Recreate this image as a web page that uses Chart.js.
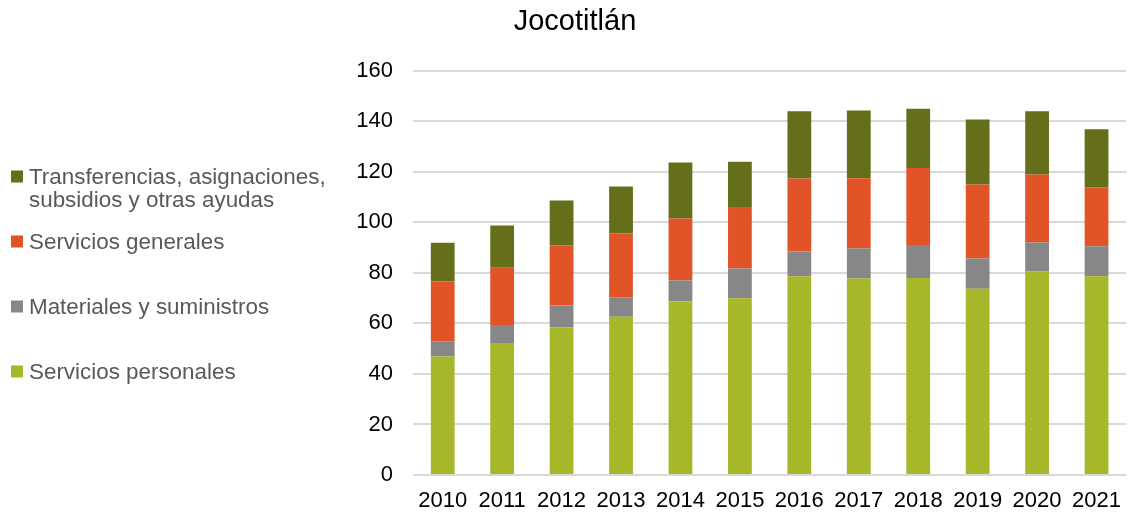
<!DOCTYPE html>
<html>
<head>
<meta charset="utf-8">
<script src="https://cdn.jsdelivr.net/npm/chart.js@4.4.1/dist/chart.umd.min.js"></script>
<style>
  html, body { margin: 0; padding: 0; background: #fff; overflow: hidden; }
  #wrap { width: 1136px; height: 513px; }
</style>
</head>
<body>
<div id="wrap"><canvas id="barchart" width="1136" height="513"></canvas></div>
<script>
const years = ['2010','2011','2012','2013','2014','2015','2016','2017','2018','2019','2020','2021'];
const personales = [46.9, 52.3, 58.4, 62.6, 68.7, 70.0, 78.7, 77.8, 78.0, 73.7, 80.6, 78.7];
const materiales = [6.0, 7.1, 8.7, 7.8, 8.3, 11.7, 9.8, 11.9, 13.0, 12.0, 11.4, 11.8];
const generales = [23.7, 22.6, 23.8, 25.2, 24.5, 24.4, 28.9, 27.8, 30.5, 29.3, 27.0, 23.4];
const transferencias = [15.3, 16.8, 17.8, 18.6, 22.2, 17.9, 26.6, 26.8, 23.5, 25.7, 25.0, 23.0];

const colors = {
  personales: '#A7B72A',
  materiales: '#878787',
  generales: '#E05428',
  transferencias: '#656E18'
};

// legend drawn at the left, as in the original
const legendItems = [
  { lines: ['Transferencias, asignaciones,', 'subsidios y otras ayudas'], color: colors.transferencias, y: 184 },
  { lines: ['Servicios generales'], color: colors.generales, y: 249 },
  { lines: ['Materiales y suministros'], color: colors.materiales, y: 314 },
  { lines: ['Servicios personales'], color: colors.personales, y: 379 }
];

const sideLegend = {
  id: 'sideLegend',
  afterDraw(chart) {
    const c = chart.ctx;
    c.save();
    c.font = '22.4px "Liberation Sans", Arial, sans-serif';
    c.textBaseline = 'alphabetic';
    c.textAlign = 'left';
    legendItems.forEach(item => {
      c.fillStyle = item.color;
      c.fillRect(11, item.y - 13.5, 12, 12);
      c.fillStyle = '#595959';
      item.lines.forEach((t, i) => c.fillText(t, 29, item.y + i * 22.7));
    });
    c.restore();
  }
};

const ctx = document.getElementById('barchart');
new Chart(ctx, {
  type: 'bar',
  data: {
    labels: years,
    datasets: [
      { label: 'Servicios personales', data: personales, backgroundColor: colors.personales },
      { label: 'Materiales y suministros', data: materiales, backgroundColor: colors.materiales },
      { label: 'Servicios generales', data: generales, backgroundColor: colors.generales },
      { label: 'Transferencias, asignaciones, subsidios y otras ayudas', data: transferencias, backgroundColor: colors.transferencias }
    ]
  },
  options: {
    responsive: false,
    animation: false,
    layout: { padding: { left: 14, right: 0, top: 0, bottom: 0 } },
    datasets: {
      bar: { barPercentage: 0.4, categoryPercentage: 1, borderWidth: 0 }
    },
    scales: {
      x: {
        stacked: true,
        afterFit(scale) { scale.height = 38; },
        grid: { display: false, drawTicks: false },
        border: { display: false },
        ticks: {
          color: '#000',
          font: { family: '"Liberation Sans", Arial, sans-serif', size: 22, lineHeight: 1 },
          padding: 15,
          maxRotation: 0,
          autoSkip: false
        }
      },
      y: {
        stacked: true,
        min: 0,
        max: 160,
        afterFit(scale) { scale.width = 399; },
        grid: { color: '#D9D9D9', lineWidth: 2, drawTicks: false },
        border: { display: false },
        ticks: {
          stepSize: 20,
          color: '#000',
          padding: 20,
          font: { family: '"Liberation Sans", Arial, sans-serif', size: 22 }
        }
      }
    },
    plugins: {
      legend: { display: false },
      tooltip: { enabled: false },
      title: {
        display: true,
        text: 'Jocotitlán',
        color: '#000',
        font: { family: '"Liberation Sans", Arial, sans-serif', size: 29, weight: 'normal' },
        padding: { top: 5, bottom: 31 }
      }
    }
  },
  plugins: [sideLegend]
});
</script>
</body>
</html>
